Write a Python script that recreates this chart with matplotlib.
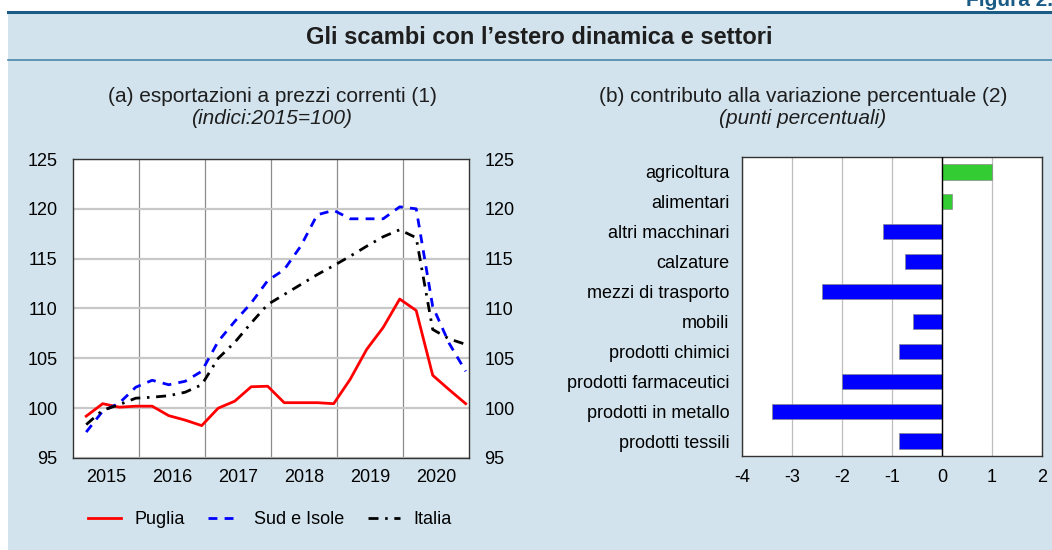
import numpy as np
import matplotlib
matplotlib.use("Agg")
import matplotlib.pyplot as plt
from matplotlib.patches import Rectangle
from matplotlib.lines import Line2D

plt.rcParams["font.family"] = ["Liberation Sans", "DejaVu Sans"]
plt.rcParams["axes.unicode_minus"] = False

# --- data: panel (a), quarterly index 2015=100 (2015Q1..2020Q4)
years = ["2015", "2016", "2017", "2018", "2019", "2020"]
puglia = [99.2, 100.45, 100.1, 100.2, 100.2, 99.25, 98.8, 98.25,
          100.0, 100.7, 102.15, 102.2, 100.55, 100.55, 100.55, 100.45,
          102.9, 105.9, 108.1, 110.95, 109.8, 103.3, 101.85, 100.45]
sud_isole = [97.6, 99.7, 100.5, 102.1, 102.8, 102.35, 102.7, 103.7,
             106.7, 108.7, 110.55, 112.8, 113.9, 116.25, 119.4, 119.85,
             119.0, 119.0, 119.0, 120.2, 120.0, 110.2, 106.5, 103.7]
italia = [98.35, 99.8, 100.35, 101.0, 101.1, 101.25, 101.6, 102.35,
          105.0, 106.6, 108.55, 110.4, 111.4, 112.4, 113.4, 114.3,
          115.25, 116.25, 117.2, 117.9, 117.1, 107.9, 106.95, 106.4]

# --- data: panel (b), contribution to percentage change (points)
settori = ["agricoltura", "alimentari", "altri macchinari", "calzature",
           "mezzi di trasporto", "mobili", "prodotti chimici",
           "prodotti farmaceutici", "prodotti in metallo", "prodotti tessili"]
contributi = [1.0, 0.2, -1.18, -0.75, -2.4, -0.58, -0.86, -2.0, -3.41, -0.86]

W, H = 1052, 550
fig = plt.figure(figsize=(W / 100, H / 100), dpi=100)
fig.patch.set_facecolor("white")

# background panel and rules
bg = "#d2e3ed"
fig.add_artist(Rectangle((8 / W, 0), 1 - 8 / W, 1 - 12 / H, transform=fig.transFigure,
                         facecolor=bg, edgecolor="none", zorder=-10))
fig.add_artist(Line2D([8 / W, 1], [1 - 12 / H] * 2, transform=fig.transFigure,
                      color="#1b5c86", lw=2.2))
fig.add_artist(Line2D([8 / W, 1], [1 - 60 / H] * 2, transform=fig.transFigure,
                      color="#4b86aa", lw=1.2))
fig.text(966 / W, 1 - 6 / H, "Figura 2.1", color="#1b5c86", fontsize=15,
         fontweight="bold", ha="left", va="baseline")

fig.text(539 / W, 1 - 38 / H, "Gli scambi con l\u2019estero dinamica e settori",
         fontsize=17, fontweight="bold", color="#1e1e1e", ha="center", va="center")

# subtitles
fig.text(272 / W, 1 - 96 / H, "(a) esportazioni a prezzi correnti (1)",
         fontsize=15, ha="center", va="center", color="#1e1e1e")
fig.text(272 / W, 1 - 119 / H, "(indici:2015=100)", fontsize=15, style="italic",
         ha="center", va="center", color="#1e1e1e")
fig.text(803 / W, 1 - 96 / H, "(b) contributo alla variazione percentuale (2)",
         fontsize=15, ha="center", va="center", color="#1e1e1e")
fig.text(803 / W, 1 - 119 / H, "(punti percentuali)", fontsize=15, style="italic",
         ha="center", va="center", color="#1e1e1e")

# ---------------- panel (a)
ax1 = fig.add_axes([73 / W, 92 / H, 396 / W, 299 / H])
x = 0.2 + 0.25 * np.arange(len(puglia))
ax1.plot(x, puglia, color="#ff0000", lw=2, label="Puglia", zorder=3)
ax1.plot(x, sud_isole, color="#0000ff", lw=2, ls=(0, (3.2, 2.6)),
         label="Sud e Isole", zorder=3)
ax1.plot(x, italia, color="black", lw=2, ls=(0, (3.6, 2.4, 0.9, 2.4)),
         label="Italia", zorder=3)
ax1.set_xlim(0, 6)
ax1.set_ylim(95, 125)
ax1.set_yticks(np.arange(95, 126, 5))
ax1.set_xticks(np.arange(1, 6))
ax1.set_xticklabels([])
ax1.set_xticks(np.arange(6) + 0.5, minor=True)
ax1.set_xticklabels(years, minor=True)
ax1.tick_params(axis="x", which="both", length=0, labelsize=13, pad=8)
ax1.tick_params(axis="y", length=0, labelsize=13, pad=11,
                labelright=True, right=False)
ax1.grid(axis="y", color="#c8c8c8", lw=1.6, zorder=1)
ax1.grid(axis="x", which="major", color="#8c8c8c", lw=0.9, zorder=1)
ax1.set_axisbelow(True)
for s in ax1.spines.values():
    s.set_color("#333333")
    s.set_linewidth(1.0)

# legend
h, l = ax1.get_legend_handles_labels()
fig.legend(h, l, loc="center", bbox_to_anchor=(270 / W, 1 - 520 / H), ncol=3,
           frameon=False, fontsize=13, handlelength=1.8, handletextpad=0.75,
           columnspacing=1.3)

# ---------------- panel (b)
ax2 = fig.add_axes([742 / W, 94 / H, 300 / W, 299 / H])
ypos = np.arange(len(settori))
colors = ["#33cc33" if v > 0 else "#0000ff" for v in contributi]
ax2.barh(ypos, contributi, height=0.51, color=colors, edgecolor="#8a8a8a",
         linewidth=0.5, zorder=3)
ax2.axvline(0, color="black", lw=1.0, zorder=4)
ax2.set_xlim(-4, 2)
ax2.set_ylim(len(settori) - 0.5, -0.5)
ax2.set_yticks(ypos)
ax2.set_yticklabels(settori)
ax2.set_xticks(np.arange(-4, 3, 1))
ax2.tick_params(axis="both", length=0, labelsize=13)
ax2.tick_params(axis="x", pad=9)
ax2.tick_params(axis="y", pad=9)
ax2.grid(axis="x", color="#bdbdbd", lw=0.9, zorder=1)
ax2.set_axisbelow(True)
for s in ax2.spines.values():
    s.set_color("#333333")
    s.set_linewidth(1.0)

fig.savefig("out.png", dpi=100)
